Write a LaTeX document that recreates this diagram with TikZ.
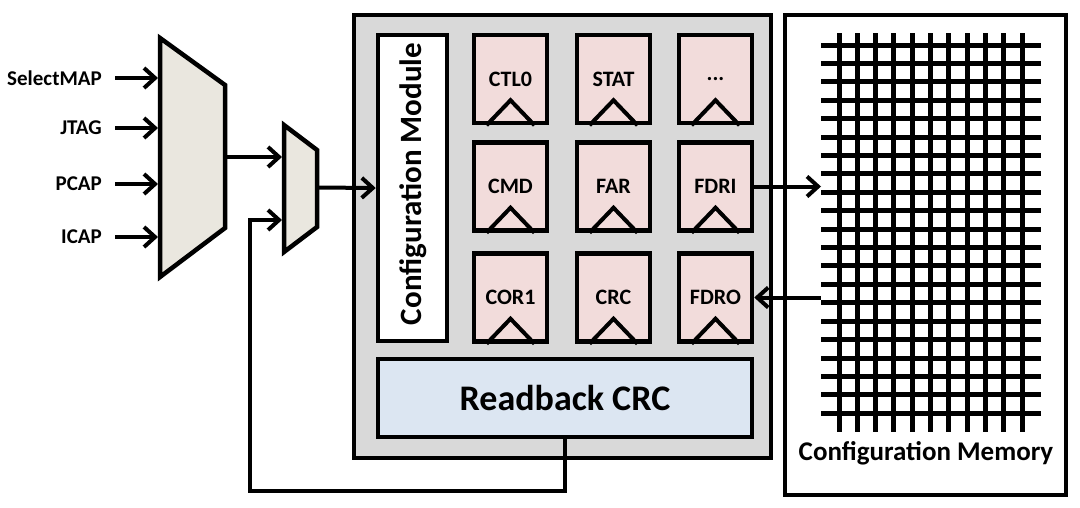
\documentclass[tikz,border=0pt]{standalone}
\usepackage{fontspec}
\setmainfont{Carlito}
\usetikzlibrary{arrows.meta}
\definecolor{muxfill}{HTML}{EAE7DF}
\definecolor{corefill}{HTML}{D9D9D9}
\definecolor{regfill}{HTML}{F2DCDB}
\definecolor{crcfill}{HTML}{DCE6F2}
\newcommand\mydots{...}
\begin{document}
\begin{tikzpicture}[x=1pt,y=-1pt,
  box/.style={draw,line width=4.5pt,inner sep=0pt},
  reg/.style={box,fill=regfill,minimum width=73pt,minimum height=88pt,font=\fontsize{22}{24}\selectfont\bfseries},
  arr/.style={line width=4pt,-{Straight Barb[length=11pt,width=20pt]}},
  inlabel/.style={anchor=east,inner sep=0pt,font=\fontsize{21}{24}\selectfont\bfseries},
  gridline/.style={line width=5pt}]
\useasboundingbox (0,0) rectangle (1080,507);
% core box
\node[box,fill=corefill,minimum width=417pt,minimum height=443pt] (core) at (562.5,236.5) {};
\node[box,fill=white,minimum width=69pt,minimum height=306pt] (cfg) at (412.5,188) {};
\node[font=\fontsize{31}{34}\selectfont\bfseries,rotate=90] (cfgtxt) at (413.5,184) {Configuration Module};
% registers
\foreach \n/\t/\x/\y in {ctl/CTL0/510.5/79, stat/STAT/613.5/79, dots/\mydots/715.5/79,
                          cmd/CMD/510.5/186.5, far/FAR/613.5/186.5, fdri/FDRI/715.5/186.5,
                          cor/COR1/510.5/297.5, crc/CRC/613.5/297.5, fdro/FDRO/715.5/297.5}{
  \node[reg] (\n) at (\x,\y) {\t};
  \draw[line width=4pt,line join=miter] ([xshift=-24pt]\n.south) -- ++(24,-25) -- ++(24,25);
}
% readback crc
\node[box,fill=crcfill,minimum width=374pt,minimum height=78pt,font=\fontsize{36}{40}\selectfont\bfseries] (rb) at (565,398) {Readback CRC};
% memory
\node[box,fill=white,minimum width=281pt,minimum height=480pt] (mem) at (925.5,255) {};
\foreach \i in {0,...,20}{
  \draw[gridline] (821,45+\i*18.415) -- (1041,45+\i*18.415);
}
\foreach \i in {0,...,10}{
  \draw[gridline] (839+\i*18.3,33) -- (839+\i*18.3,432);
}
\node[font=\fontsize{27}{30}\selectfont\bfseries] (memlabel) at (926,453) {Configuration Memory};
\coordinate (memin) at (821,186.5);
\coordinate (memout) at (821,297.5);
\draw[arr] (fdri.east) -- (memin);
\draw[arr] (memout) -- (fdro.east);
% muxes
\coordinate (m1a) at (160,38); \coordinate (m1b) at (225,85);
\coordinate (m1c) at (225,228); \coordinate (m1d) at (160,277);
\draw[line width=4.5pt,fill=muxfill] (m1a) -- (m1b) -- (m1c) -- (m1d) -- cycle;
\coordinate (m2a) at (284,125); \coordinate (m2b) at (317,150);
\coordinate (m2c) at (317,227); \coordinate (m2d) at (284,252);
\draw[line width=4.5pt,fill=muxfill] (m2a) -- (m2b) -- (m2c) -- (m2d) -- cycle;
% inputs
\foreach \n/\t/\y in {sm/SelectMAP/78, jt/JTAG/128, pc/PCAP/184, ic/ICAP/237}{
  \node[inlabel] (\n) at (102,\y) {\t};
  \coordinate (\n in) at (158,\y);
  \draw[arr] (115,\y) -- (\n in);
}
\coordinate (m1out) at (225,157);
\coordinate (m2in1) at (282,157);
\coordinate (m2in2) at (282,220);
\coordinate (m2out) at (317,187.5);
\draw[arr] (m1out) -- (m2in1);
\draw[arr] (m2out) -- (cfg.west);
\coordinate (fbA) at (565,491);
\coordinate (fbB) at (250,491);
\draw[arr] (rb.south) -- (fbA) -- (fbB) -- (fbB |- m2in2) -- (m2in2);
\end{tikzpicture}
\end{document}
